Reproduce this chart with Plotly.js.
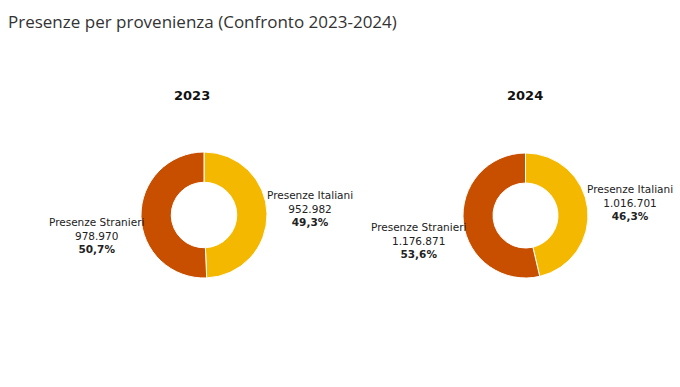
<!DOCTYPE html>
<html><head><meta charset="utf-8">
<script src="https://cdn.plot.ly/plotly-3.0.1.min.js"></script>
<style>html,body{margin:0;padding:0;background:#fff}</style>
</head><body><div id="chart" style="width:680px;height:387px"></div>
<script>
const categories = ["Presenze Italiani", "Presenze Stranieri"];
const years = ["2023", "2024"];
const values2023 = [952982, 978970];
const values2024 = [1016701, 1176871];
const pct2023 = ["49,3%", "50,7%"];
const pct2024 = ["46,3%", "53,6%"];
const colors = ["#F5B800", "#C84E00"];

function fmt(v){ return v.toString().replace(/\B(?=(\d{3})+(?!\d))/g, "."); }

const W = 680, H = 387;
const dom = [
  {x:[141/W, 267/W], y:[1-278/H, 1-152/H]},
  {x:[463/W, 588/W], y:[1-278/H, 1-153/H]}
];
const allVals = [values2023, values2024];
const allPct = [pct2023, pct2024];

const data = allVals.map((vals,i)=>({
  type:'pie', values:vals, labels:categories, domain:dom[i],
  hole:0.52, sort:false, direction:'clockwise', rotation:0,
  marker:{colors:colors, line:{color:'#ffffff', width:1}},
  textinfo:'none', hoverinfo:'label+value+percent', showlegend:false
}));

// label positions (paper coords)
const labelPos = [
  [{x:310, y:208}, {x:96, y:235}],
  [{x:630, y:202}, {x:418, y:241}]
];
const annotations = [];
allVals.forEach((vals,i)=>{
  vals.forEach((v,j)=>{
    annotations.push({
      xref:'paper', yref:'paper', x:labelPos[i][j].x/W, y:1-labelPos[i][j].y/H,
      xanchor:'center', yanchor:'middle', showarrow:false, align:'center',
      text: categories[j] + '<br>' + fmt(v) + '<br><b>' + allPct[i][j] + '</b>',
      font:{family:'DejaVu Sans, Verdana, sans-serif', size:10.5, color:'#222'}
    });
  });
});
const titleX = [192, 525];
years.forEach((y,i)=>{
  annotations.push({
    xref:'paper', yref:'paper', x:titleX[i]/W, y:1-95/H, xanchor:'center', yanchor:'middle',
    showarrow:false, text:'<b>'+y+'</b>',
    font:{family:'DejaVu Sans, Verdana, sans-serif', size:13, color:'#111'}
  });
});

const layout = {
  width:W, height:H, margin:{l:0,r:0,t:0,b:0},
  paper_bgcolor:'#fff', plot_bgcolor:'#fff',
  title:{text:'Presenze per provenienza (Confronto 2023-2024)', x:8/W, xanchor:'left', y:1-22/H, yanchor:'middle',
    font:{family:'Open Sans, sans-serif', size:17, color:'#333'}},
  annotations:annotations
};
Plotly.newPlot('chart', data, layout, {displayModeBar:false, staticPlot:true});
</script></body></html>
